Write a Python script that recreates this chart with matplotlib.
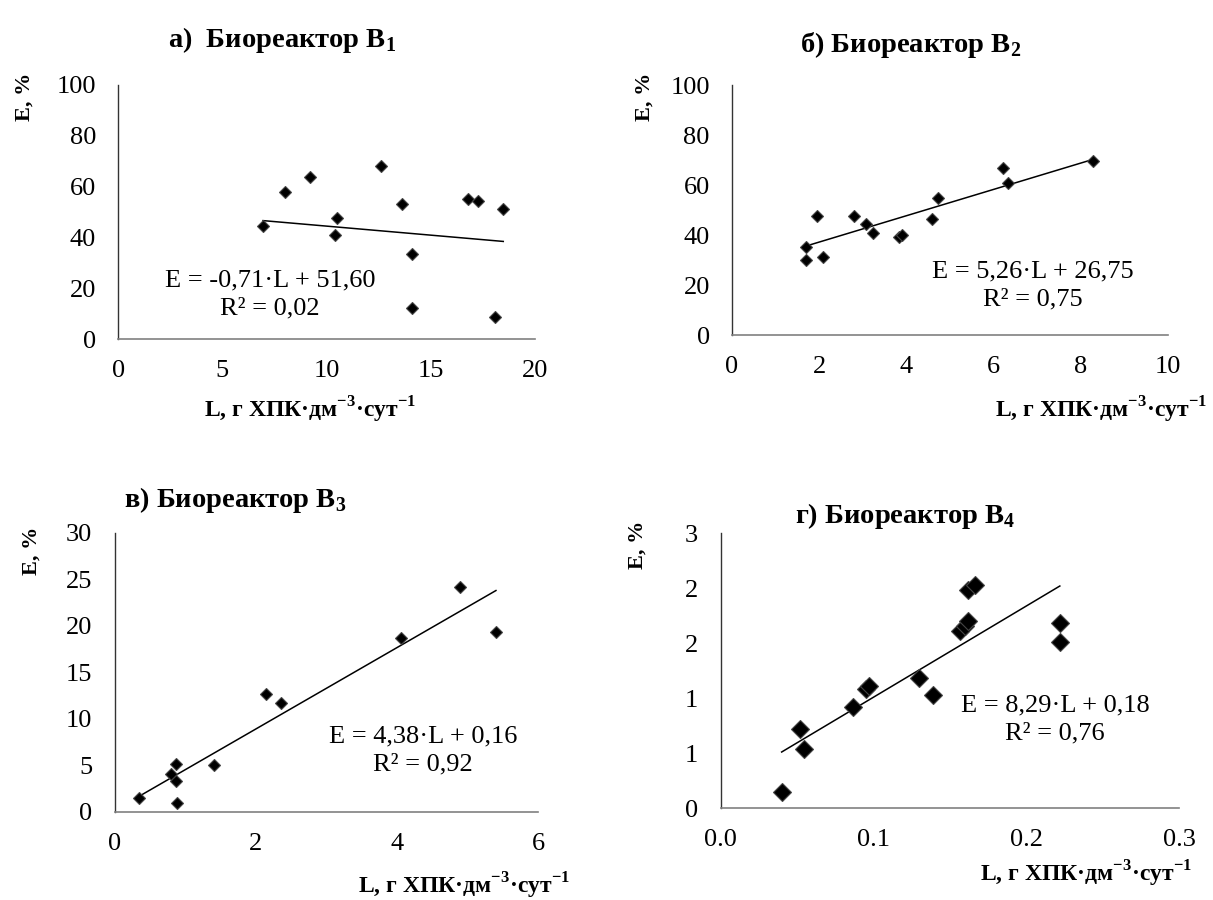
import matplotlib.pyplot as plt
from matplotlib.ticker import FuncFormatter

plt.rcParams['font.family'] = ['Liberation Serif', 'DejaVu Serif']
plt.rcParams['mathtext.fontset'] = 'custom'
plt.rcParams['mathtext.rm'] = 'Liberation Serif'
plt.rcParams['mathtext.bf'] = 'Liberation Serif:bold'

# panel a) bioreactor B1
L1 = [6.95, 7.98, 9.21, 10.52, 10.38, 12.61, 13.6, 14.1, 14.1, 16.77, 17.25, 18.48, 18.08]
E1 = [44.7, 57.8, 63.8, 47.6, 41.1, 68.0, 53.1, 33.7, 12.4, 55.1, 54.5, 51.2, 8.7]

# panel б) bioreactor B2
L2 = [1.70, 1.70, 1.96, 2.08, 2.80, 3.07, 3.23, 3.83, 3.89, 4.58, 4.72, 6.21, 6.32, 8.28]
E2 = [35.2, 30.0, 47.7, 31.2, 47.7, 44.3, 40.9, 39.4, 40.2, 46.3, 54.9, 66.7, 60.7, 69.6]

# panel в) bioreactor B3
L3 = [0.35, 0.80, 0.87, 0.87, 0.89, 1.41, 2.14, 2.36, 4.05, 4.89, 5.40]
E3 = [1.5, 4.1, 5.2, 3.3, 1.0, 5.1, 12.7, 11.7, 18.7, 24.2, 19.4]

# panel г) bioreactor B4
L4 = [0.040, 0.052, 0.0546, 0.0869, 0.095, 0.0972, 0.130, 0.139, 0.157, 0.160, 0.162,
      0.162, 0.1667, 0.222, 0.222]
E4 = [0.145, 0.72, 0.54, 0.92, 1.08, 1.11, 1.18, 1.03, 1.61, 1.66, 1.70, 1.98, 2.03, 1.68, 1.51]

titles = ['а)  Биореактор В$_\\mathbf{1}$', 'б) Биореактор В$_\\mathbf{2}$',
          'в) Биореактор В$_\\mathbf{3}$', 'г) Биореактор В$_\\mathbf{4}$']
slopes = [-0.71, 5.26, 4.38, 8.29]
intercepts = [51.60, 26.75, 0.16, 0.18]
r2 = ['0,02', '0,75', '0,92', '0,76']
xlims = [(0, 20), (0, 10), (0, 6), (0, 0.3)]
xsteps = [5, 2, 2, 0.1]
ylims = [(0, 100), (0, 100), (0, 30), (0, 2.5)]
ysteps = [20, 20, 5, 0.5]

xlabel = 'L, г ХПК·дм$^{\\mathbf{-3}}$·сут$^{\\mathbf{-1}}$'

fig = plt.figure(figsize=(12.13, 9), dpi=100)

# axes rectangles and text placement (figure pixels)
rects = [[0.0975, 0.623, 0.3435, 0.2826],
         [0.6035, 0.6274, 0.3594, 0.2781],
         [0.0944, 0.0978, 0.3494, 0.31],
         [0.594, 0.1019, 0.378, 0.3056]]
title_pos = [(282, 40), (911, 45), (235, 500), (905, 516)]
ylab_pos = [(25, 97), (645, 97), (32, 551), (638, 545)]
xlab_pos = [(416, 410), (1207, 410), (570, 886), (1192, 874)]
eq_pos = [(270, 294), (1033, 285), (423, 750), (1055, 719)]
msizes = [6.6, 6.6, 6.6, 8.8]

data = [(L1, E1), (L2, E2), (L3, E3), (L4, E4)]

def px(x, y):
    return x / 1213, 1 - y / 900

for i, (L, E) in enumerate(data):
    ax = fig.add_axes(rects[i])
    ax.plot(L, E, linestyle='none', marker='D', markersize=msizes[i],
            color='black', markeredgecolor='#444444', markeredgewidth=0.8, zorder=3)
    lx = [min(L), max(L)]
    ly = [slopes[i] * v + intercepts[i] for v in lx]
    ax.plot(lx, ly, color='black', linewidth=1.1)

    ax.set_xlim(*xlims[i])
    ax.set_ylim(*ylims[i])
    n = round((xlims[i][1] - xlims[i][0]) / xsteps[i])
    ax.set_xticks([xlims[i][0] + k * xsteps[i] for k in range(n + 1)])
    m = round((ylims[i][1] - ylims[i][0]) / ysteps[i])
    ax.set_yticks([ylims[i][0] + k * ysteps[i] for k in range(m + 1)])
    if i == 3:
        ax.xaxis.set_major_formatter(FuncFormatter(lambda v, p: f'{v:.1f}'))
        ax.yaxis.set_major_formatter(FuncFormatter(lambda v, p: str(int(v + 0.5))))
    else:
        ax.xaxis.set_major_formatter(FuncFormatter(lambda v, p: f'{v:g}'))
        ax.yaxis.set_major_formatter(FuncFormatter(lambda v, p: f'{v:g}'))

    ax.tick_params(length=0, labelsize=19)
    ax.tick_params(axis='y', pad=16)
    ax.tick_params(axis='x', pad=15)
    for s in ['top', 'right']:
        ax.spines[s].set_visible(False)
    ax.spines['left'].set_color('#333333')
    ax.spines['bottom'].set_color('#808080')
    ax.spines['left'].set_linewidth(1.0)
    ax.spines['bottom'].set_linewidth(1.2)

    sign = '-' if slopes[i] < 0 else ''
    eq = f'E = {sign}{abs(slopes[i]):.2f}·L + {intercepts[i]:.2f}'.replace('.', ',')
    fig.text(*px(*eq_pos[i]), eq + '\nR² = ' + r2[i], ha='center', va='center',
             multialignment='center', fontsize=19, linespacing=1.35)

    fig.text(*px(*title_pos[i]), titles[i], ha='center', va='center',
             fontsize=20.5, fontweight='bold')
    fig.text(*px(*ylab_pos[i]), 'E, %', ha='center', va='center', rotation=90,
             fontsize=16, fontweight='bold')
    fig.text(*px(*xlab_pos[i]), xlabel, ha='right', va='center',
             fontsize=17, fontweight='bold')

fig.savefig('out.png', dpi=100)
